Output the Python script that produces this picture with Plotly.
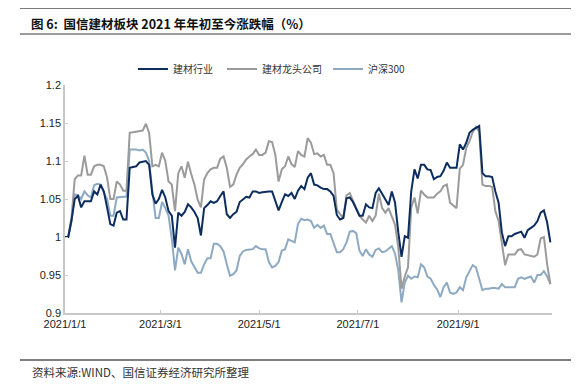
import pandas as pd
import plotly.graph_objects as go

# dates every 2 days, 2021-01-01 .. 2021-10-28
dates = pd.date_range("2021-01-01", "2021-10-28", freq="2D")

jc_industry = [
    1.000, 1.000, 1.022, 1.050, 1.054, 1.039, 1.047, 1.047, 1.047, 1.060, 1.056, 1.069, 1.060, 1.039, 1.017, 1.015, 1.032, 1.034, 1.023, 1.023, 1.091, 1.092, 1.093, 1.098,
    1.099, 1.100, 1.095, 1.056, 1.044, 1.050, 1.062, 1.052, 1.034, 1.028, 0.986, 1.032, 1.028, 1.033, 1.043, 1.039, 1.033, 1.025, 1.002, 1.038, 1.042, 1.047, 1.045, 1.047, 1.054,
    1.060, 1.030, 1.025, 1.030, 1.033, 1.046, 1.050, 1.053, 1.052, 1.060, 1.060, 1.058, 1.059, 1.060, 1.060, 1.060, 1.048, 1.035, 1.046, 1.056, 1.054, 1.058, 1.050, 1.061, 1.067,
    1.063, 1.078, 1.084, 1.069, 1.068, 1.065, 1.063, 1.063, 1.060, 1.054, 1.029, 1.023, 1.025, 1.051, 1.052, 1.046, 1.038, 1.028, 1.028, 1.043, 1.039, 1.038, 1.058, 1.064, 1.057,
    1.050, 1.042, 1.060, 1.045, 1.006, 0.974, 1.001, 0.999, 1.060, 1.089, 1.077, 1.095, 1.095, 1.089, 1.088, 1.076, 1.079, 1.080, 1.087, 1.098, 1.091, 1.091, 1.091, 1.122, 1.115,
    1.124, 1.137, 1.141, 1.144, 1.146, 1.084, 1.080, 1.080, 1.079, 1.060, 1.045, 1.006, 0.988, 1.001, 1.001, 1.004, 1.005, 1.007, 0.999, 1.009, 1.012, 1.015, 1.021, 1.032, 1.035, 1.019, 0.993,
]

jc_leaders = [
    1.000, 1.000, 1.025, 1.076, 1.081, 1.081, 1.107, 1.082, 1.082, 1.093, 1.095, 1.095, 1.093, 1.078, 1.050, 1.050, 1.073, 1.069, 1.061, 1.061, 1.137, 1.138, 1.138, 1.139,
    1.140, 1.149, 1.137, 1.093, 1.095, 1.093, 1.111, 1.100, 1.073, 1.069, 1.034, 1.084, 1.093, 1.078, 1.099, 1.083, 1.069, 1.049, 1.039, 1.076, 1.084, 1.089, 1.091, 1.091, 1.103,
    1.106, 1.091, 1.066, 1.069, 1.082, 1.091, 1.096, 1.102, 1.106, 1.109, 1.115, 1.108, 1.108, 1.111, 1.126, 1.125, 1.108, 1.073, 1.089, 1.093, 1.106, 1.096, 1.092, 1.113, 1.108,
    1.106, 1.130, 1.124, 1.109, 1.110, 1.106, 1.108, 1.095, 1.095, 1.084, 1.036, 1.030, 1.025, 1.055, 1.058, 1.048, 1.039, 1.028, 1.023, 1.019, 1.028, 1.021, 1.028, 1.057, 1.038,
    1.032, 1.038, 1.028, 1.016, 0.986, 0.932, 0.948, 0.960, 1.039, 1.052, 1.031, 1.061, 1.056, 1.052, 1.052, 1.052, 1.057, 1.060, 1.067, 1.069, 1.045, 1.041, 1.038, 1.090, 1.095,
    1.117, 1.126, 1.138, 1.145, 1.139, 1.069, 1.067, 1.067, 1.066, 1.034, 1.021, 0.991, 0.963, 0.977, 0.977, 0.977, 0.983, 0.984, 0.977, 0.976, 0.975, 0.974, 0.977, 0.998, 1.000, 0.964, 0.938,
]

hs300 = [
    1.000, 1.000, 1.020, 1.056, 1.055, 1.050, 1.060, 1.055, 1.052, 1.068, 1.070, 1.069, 1.058, 1.050, 1.028, 1.028, 1.052, 1.053, 1.053, 1.053, 1.115, 1.115, 1.115, 1.114,
    1.115, 1.111, 1.100, 1.060, 1.025, 1.025, 1.046, 1.038, 1.028, 0.998, 0.956, 0.986, 0.978, 0.964, 0.984, 0.968, 0.961, 0.953, 0.953, 0.964, 0.972, 0.972, 0.991, 0.991, 0.988,
    0.981, 0.964, 0.949, 0.951, 0.956, 0.975, 0.981, 0.983, 0.984, 0.984, 0.988, 0.985, 0.984, 0.984, 0.967, 0.960, 0.962, 0.967, 0.982, 0.984, 0.997, 0.995, 0.993, 1.017, 1.024,
    1.022, 1.023, 1.021, 1.012, 1.016, 1.012, 1.015, 1.004, 1.004, 0.993, 0.980, 0.980, 0.984, 0.993, 1.007, 1.008, 1.005, 0.982, 0.975, 0.984, 0.977, 0.974, 0.983, 0.985, 0.980,
    0.981, 0.984, 0.988, 0.978, 0.956, 0.914, 0.940, 0.949, 0.945, 0.948, 0.947, 0.964, 0.960, 0.948, 0.945, 0.937, 0.931, 0.921, 0.934, 0.940, 0.927, 0.925, 0.927, 0.934, 0.930,
    0.947, 0.956, 0.963, 0.960, 0.943, 0.930, 0.932, 0.932, 0.933, 0.933, 0.932, 0.938, 0.934, 0.934, 0.934, 0.934, 0.945, 0.947, 0.945, 0.947, 0.948, 0.940, 0.950, 0.950, 0.955, 0.948, 0.938,
]

names = ["建材行业", "建材龙头公司", "沪深300"]
colors = ["#0c2d5e", "#9b9b9b", "#8eaac3"]

y_ticks = [0.9, 0.95, 1.0, 1.05, 1.1, 1.15, 1.2]
y_ticktext = ["0.9", "0.95", "1", "1.05", "1.1", "1.15", "1.2"]
x_ticks = ["2021-01-01", "2021-03-01", "2021-05-01", "2021-07-01", "2021-09-01"]
x_ticktext = ["2021/1/1", "2021/3/1", "2021/5/1", "2021/7/1", "2021/9/1"]

title_text = "<b>图 6:  国信建材板块 2021 年年初至今涨跌幅（%）</b>"
source_text = "资料来源:WIND、国信证券经济研究所整理"

# page has an 8px body margin; work in page pixel coordinates
OFF = 8
W, H = 579 - OFF, 384 - OFF
L, R, T, B = 65, 552, 85, 313  # plot area in page pixels


def px(x):
    return (x - L) / (R - L)


def py(y):
    return (B - y) / (B - T)


legend_ids = ["legend", "legend2", "legend3"]
legend_text_x = [173, 262, 368]  # page x where each legend label starts

fig = go.Figure()
series = [jc_industry, jc_leaders, hs300]
for idx in [2, 1, 0]:
    fig.add_trace(go.Scatter(
        x=dates, y=series[idx], mode="lines", name=names[idx],
        line=dict(color=colors[idx], width=2), legend=legend_ids[idx],
    ))

legend_common = dict(orientation="h", xanchor="left", y=py(69), yanchor="middle",
                     font=dict(family="Noto Sans CJK SC", size=10, color="#333"),
                     bgcolor="rgba(0,0,0,0)", itemwidth=30)
legends = {}
for lid, tx in zip(legend_ids, legend_text_x):
    legends[lid] = dict(legend_common, x=px(tx - 40))

fig.update_layout(
    width=W, height=H,
    margin=dict(l=L - OFF, r=579 - R, t=T - OFF, b=384 - B),
    paper_bgcolor="white", plot_bgcolor="white",
    font=dict(family="Liberation Sans, Arial, sans-serif", size=11, color="#222"),
    showlegend=True,
    xaxis=dict(type="date", range=["2021-01-01", "2021-10-29"],
               tickvals=x_ticks, ticktext=x_ticktext,
               showgrid=False, zeroline=False,
               showline=True, linecolor="#c8c8c8", linewidth=1.5,
               ticks="inside", ticklen=3, tickcolor="#c8c8c8",
               tickfont=dict(size=11, color="#222")),
    yaxis=dict(range=[0.9, 1.2], tickvals=y_ticks, ticktext=y_ticktext,
               showgrid=False, zeroline=False,
               showline=True, linecolor="#c8c8c8", linewidth=1.5,
               ticks="inside", ticklen=3, tickcolor="#c8c8c8",
               tickfont=dict(size=11, color="#222")),
    **legends,
)

shapes = [
    dict(type="line", xref="paper", yref="paper", x0=px(20), x1=px(579), y0=py(8), y1=py(8),
         line=dict(color="#7a7a7a", width=2)),
    dict(type="line", xref="paper", yref="paper", x0=px(20), x1=px(579), y0=py(34), y1=py(34),
         line=dict(color="#7a7a7a", width=1.5)),
    dict(type="line", xref="paper", yref="paper", x0=px(20), x1=px(579), y0=py(360), y1=py(360),
         line=dict(color="#555555", width=1.5)),
]
fig.update_layout(shapes=shapes)

fig.add_annotation(text=title_text, xref="paper", yref="paper", x=px(29), y=py(23),
                   xanchor="left", yanchor="middle", showarrow=False,
                   font=dict(family="Noto Sans CJK SC", size=12.5, color="#111"))
fig.add_annotation(text=source_text, xref="paper", yref="paper", x=px(30), y=py(372),
                   xanchor="left", yanchor="middle", showarrow=False,
                   font=dict(family="Noto Sans CJK SC", size=11.5, color="#333"))

fig.write_html("out.html")
